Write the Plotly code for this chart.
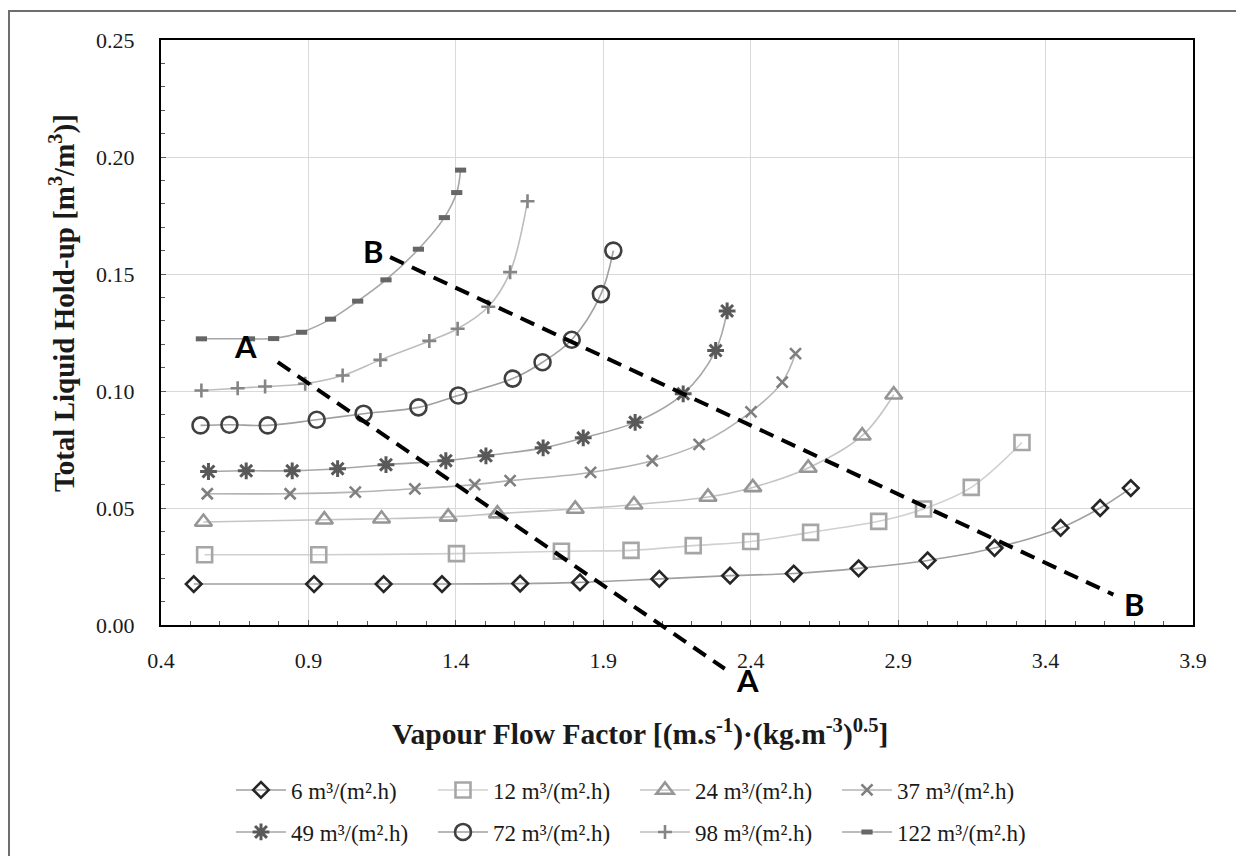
import plotly.graph_objects as go

# ---------------- data ----------------
names = ["6 m³/(m².h)", "12 m³/(m².h)", "24 m³/(m².h)", "37 m³/(m².h)",
         "49 m³/(m².h)", "72 m³/(m².h)", "98 m³/(m².h)", "122 m³/(m².h)"]

x6 = [0.511, 0.919, 1.155, 1.353, 1.618, 1.821, 2.090, 2.330, 2.546, 2.766, 3.000, 3.227, 3.451, 3.585, 3.689]
y6 = [0.0175, 0.0175, 0.0175, 0.0175, 0.0177, 0.0182, 0.0197, 0.0211, 0.0220, 0.0242, 0.0276, 0.0329, 0.0415, 0.0500, 0.0585]

x12 = [0.548, 0.935, 1.402, 1.758, 1.994, 2.205, 2.400, 2.603, 2.834, 2.986, 3.148, 3.320]
y12 = [0.0300, 0.0300, 0.0305, 0.0315, 0.0319, 0.0339, 0.0357, 0.0396, 0.0443, 0.0496, 0.0588, 0.0780]

x24 = [0.544, 0.954, 1.148, 1.374, 1.541, 1.805, 2.004, 2.255, 2.407, 2.595, 2.778, 2.885]
y24 = [0.0440, 0.0450, 0.0454, 0.0462, 0.0476, 0.0496, 0.0514, 0.0547, 0.0588, 0.0671, 0.0809, 0.0984]

x37 = [0.557, 0.838, 1.059, 1.261, 1.464, 1.584, 1.857, 2.066, 2.225, 2.401, 2.507, 2.552]
y37 = [0.0561, 0.0561, 0.0568, 0.0582, 0.0600, 0.0617, 0.0652, 0.0702, 0.0772, 0.0911, 0.1038, 0.1160]

x49 = [0.561, 0.689, 0.845, 0.999, 1.163, 1.366, 1.502, 1.696, 1.832, 2.008, 2.171, 2.281, 2.320]
y49 = [0.0656, 0.0659, 0.0659, 0.0668, 0.0685, 0.0702, 0.0723, 0.0757, 0.0800, 0.0866, 0.0988, 0.1173, 0.1342]

x72 = [0.534, 0.632, 0.762, 0.928, 1.087, 1.273, 1.408, 1.593, 1.694, 1.793, 1.892, 1.934]
y72 = [0.0853, 0.0856, 0.0853, 0.0877, 0.0903, 0.0930, 0.0981, 0.1053, 0.1123, 0.1219, 0.1414, 0.1600]

x98 = [0.537, 0.660, 0.753, 0.889, 1.016, 1.144, 1.310, 1.406, 1.510, 1.584, 1.643]
y98 = [0.1002, 0.1012, 0.1019, 0.1031, 0.1066, 0.1133, 0.1214, 0.1266, 0.1360, 0.1508, 0.1811]

x122 = [0.537, 0.700, 0.782, 0.877, 0.975, 1.067, 1.163, 1.273, 1.361, 1.403, 1.416]
y122 = [0.1223, 0.1223, 0.1224, 0.1251, 0.1307, 0.1384, 0.1475, 0.1606, 0.1741, 0.1848, 0.1944]

xs = [x6, x12, x24, x37, x49, x72, x98, x122]
ys = [y6, y12, y24, y37, y49, y72, y98, y122]

# dashed guide lines A-A and B-B (data units)
guideA_x = [0.796, 2.312]
guideA_y = [0.1123, -0.0187]
guideB_x = [1.177, 3.630]
guideB_y = [0.1572, 0.0130]

label_text = ["A", "B", "A", "B"]
label_x = [0.687, 1.120, 2.388, 3.701]
label_y = [0.1193, 0.1599, -0.0236, 0.0091]

x_ticks = [0.4, 0.9, 1.4, 1.9, 2.4, 2.9, 3.4, 3.9]
y_ticks = [0.00, 0.05, 0.10, 0.15, 0.20, 0.25]

# ---------------- styles ----------------
symbols = ["diamond-open", "square-open", "triangle-up-open", "x-thin-open",
           "asterisk-open", "circle-open", "cross-thin-open", "line-ew-open"]
msizes = [12, 15, 15, 11, 14, 16, 10, 8]
mcolors = ["#262626", "#a6a6a6", "#969696", "#7f7f7f", "#595959", "#404040", "#858585", "#666666"]
mwidths = [2.6, 2.6, 2.6, 2.6, 3.0, 2.6, 2.6, 5]
lcolors = ["#a0a0a0", "#d0d0d0", "#c4c4c4", "#b4b4b4", "#a6a6a6", "#a0a0a0", "#bdbdbd", "#a6a6a6"]

W, H = 1236, 856
L, R, T, B = 161, 43, 40, 156
PW, PH = W - L - R, H - T - B
plot_bottom_px = 625            # pixel row of y = 0
dom_bottom = (H - B - plot_bottom_px) / PH
main_px = plot_bottom_px - T
y_lo2 = y_ticks[-1] - y_ticks[-1] * PH / main_px

serif = "Liberation Serif"

fig = go.Figure()

for i in range(8):
    fig.add_trace(go.Scatter(
        x=xs[i], y=ys[i], name=names[i], mode="lines+markers",
        line=dict(color=lcolors[i], width=1.6, shape="spline"),
        marker=dict(symbol=symbols[i], size=msizes[i], color=mcolors[i],
                    line=dict(color=mcolors[i], width=mwidths[i])),
        legend="legend" if i < 4 else "legend2",
        xaxis="x", yaxis="y", cliponaxis=False,
    ))

for gx, gy in [(guideA_x, guideA_y), (guideB_x, guideB_y)]:
    fig.add_trace(go.Scatter(
        x=gx, y=gy, mode="lines", showlegend=False, hoverinfo="skip",
        line=dict(color="black", width=4, dash="15px,9px"),
        xaxis="x2", yaxis="y2",
    ))

axis_common = dict(
    showline=True, linecolor="black", linewidth=2, mirror=True,
    showgrid=True, gridcolor="#d9d9d9", gridwidth=1.3,
    ticks="inside", ticklen=5, tickcolor="#595959", tickwidth=1,
    tickfont=dict(family=serif, size=22, color="#1a1a1a"),
    zeroline=False,
)

legend_common = dict(orientation="h", xref="container", yref="container",
                     x=231 / W, xanchor="left", yanchor="middle",
                     font=dict(family=serif, size=23, color="#1a1a1a"),
                     itemwidth=50, entrywidth=137, bgcolor="rgba(0,0,0,0)",
                     tracegroupgap=0)

fig.update_layout(
    width=W, height=H,
    margin=dict(l=L, r=R, t=T, b=B),
    paper_bgcolor="white", plot_bgcolor="rgba(0,0,0,0)",
    xaxis=dict(range=[x_ticks[0], x_ticks[-1]], tickvals=x_ticks, tickformat=".1f",
               domain=[0, 1], anchor="y", ticklabelstandoff=15,
               minor=dict(dtick=0.1, tick0=x_ticks[0], ticks="inside", ticklen=4,
                          tickcolor="#595959", showgrid=False),
               **axis_common),
    yaxis=dict(range=[y_ticks[0], y_ticks[-1]], tickvals=y_ticks, tickformat=".2f",
               domain=[dom_bottom, 1], anchor="x", ticklabelstandoff=20,
               minor=dict(dtick=0.01, tick0=0, ticks="inside", ticklen=4,
                          tickcolor="#595959", showgrid=False),
               **axis_common),
    xaxis2=dict(range=[x_ticks[0], x_ticks[-1]], domain=[0, 1], anchor="y2",
                visible=False, fixedrange=True),
    yaxis2=dict(range=[y_lo2, y_ticks[-1]], domain=[0, 1], anchor="x2",
                visible=False, fixedrange=True),
    legend=dict(y=1 - 790 / H, **legend_common),
    legend2=dict(y=1 - 832 / H, **legend_common),
    showlegend=True,
)

def px_to_paper_x(px):
    return (px - L) / PW

def px_to_paper_y(py):
    return (H - B - py) / PH

annots = [
    dict(text="<b>Vapour Flow Factor [(m.s<sup>-1</sup>)·(kg.m<sup>-3</sup>)<sup>0.5</sup>]</b>",
         xref="paper", yref="paper", x=px_to_paper_x(640), y=px_to_paper_y(732),
         xanchor="center", yanchor="middle", showarrow=False,
         font=dict(family=serif, size=29.5, color="#1a1a1a")),
    dict(text="<b>Total Liquid Hold-up [m<sup>3</sup>/m<sup>3</sup>)]</b>",
         xref="paper", yref="paper", x=px_to_paper_x(62), y=px_to_paper_y(303),
         xanchor="center", yanchor="middle", textangle=-90, showarrow=False,
         font=dict(family=serif, size=29, color="#1a1a1a")),
]
for t, lx, ly in zip(label_text, label_x, label_y):
    annots.append(dict(text=t, xref="x2", yref="y2", x=lx, y=ly, showarrow=False,
                       xanchor="center", yanchor="middle",
                       font=dict(family="Lato", size=31, color="black", weight="bold")))
fig.update_layout(annotations=annots)

# outer frame of the figure (left/top edges visible)
fig.add_shape(type="rect", xref="paper", yref="paper",
              x0=px_to_paper_x(9), x1=px_to_paper_x(W + 20),
              y0=px_to_paper_y(H + 20), y1=px_to_paper_y(11),
              line=dict(color="#6e6e6e", width=2), fillcolor="rgba(0,0,0,0)", layer="above")

fig.write_html("out.html")
